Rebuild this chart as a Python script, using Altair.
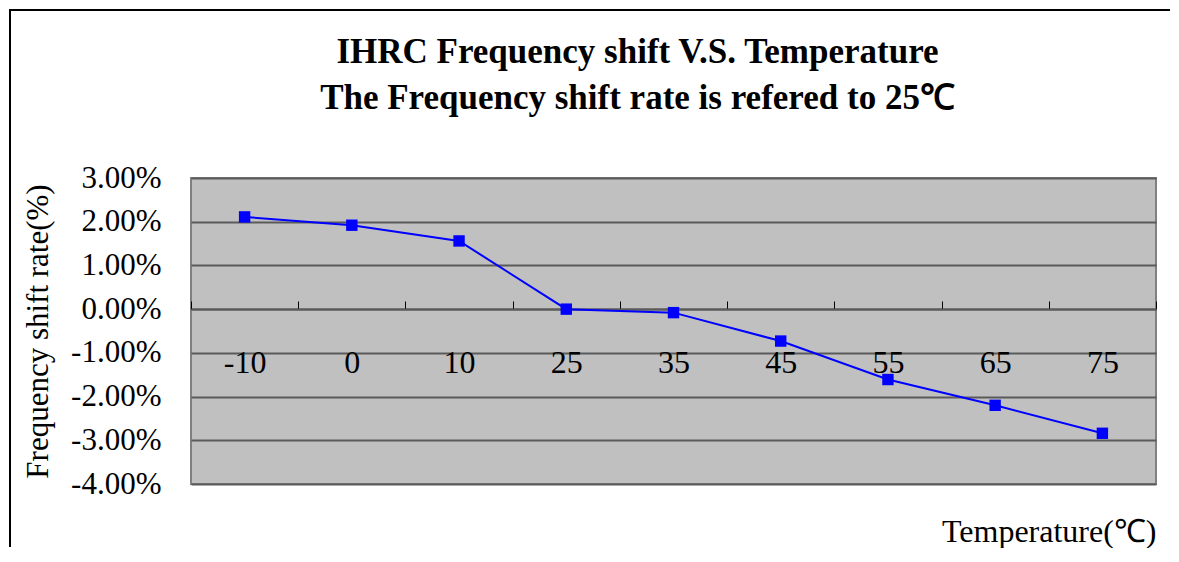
import altair as alt
import pandas as pd

# Data
temps = ["-10", "0", "10", "25", "35", "45", "55", "65", "75"]
shift_pct = [2.11, 1.92, 1.56, 0.00, -0.08, -0.73, -1.61, -2.20, -2.84]
y_ticks = [-4, -3, -2, -1, 0, 1, 2, 3]

title_lines = ["IHRC Frequency shift V.S. Temperature",
               "The Frequency shift rate is refered to 25\u2103"]
y_title = "Frequency shift rate(%)"
x_title = "Temperature(\u2103)"

df = pd.DataFrame({"Temperature": temps, "Shift": shift_pct})

SERIF = "Liberation Serif"

x_scale = alt.Scale(domain=temps, paddingInner=0, paddingOuter=0)
y_scale = alt.Scale(domain=[-4, 3], nice=False, zero=False)

y_enc = alt.Y(
    "Shift:Q",
    scale=y_scale,
    axis=alt.Axis(
        values=y_ticks,
        labelExpr="(datum.value < 0 ? '-' : '') + format(abs(datum.value), '.2f') + '%'",
        title=y_title,
        titleFont=SERIF,
        titleFontSize=31,
        titleFontWeight="normal",
        titleColor="black",
        titlePadding=16,
        labelFont=SERIF,
        labelFontSize=31,
        labelColor="black",
        labelPadding=30,
        ticks=False,
        domain=False,
        grid=True,
        gridColor="#5a5a5a",
        gridWidth=2,
    ),
)

line = alt.Chart(df).mark_line(color="#0000FF", strokeWidth=2).encode(
    x=alt.X(
        "Temperature:N",
        sort=temps,
        scale=x_scale,
        axis=alt.Axis(
            orient="top",
            offset=-131,
            title=None,
            labelAngle=0,
            labelFont=SERIF,
            labelFontSize=32,
            labelColor="black",
            labelBaseline="middle",
            labelPadding=-61,
            tickBand="extent",
            tickSize=8,
            tickColor="black",
            tickWidth=1,
            domainColor="#5a5a5a",
            domainWidth=2,
            grid=False,
        ),
    ),
    y=y_enc,
)

points = alt.Chart(df).mark_point(
    shape="square", filled=True, size=130, color="#0000FF", opacity=1
).encode(
    x=alt.X("Temperature:N", sort=temps, scale=x_scale, axis=None),
    y=alt.Y("Shift:Q", scale=y_scale),
)

xtitle_layer = alt.Chart(df).mark_point(opacity=0).encode(
    x=alt.X(
        "Temperature:N",
        sort=temps,
        scale=x_scale,
        axis=alt.Axis(
            orient="bottom",
            labels=False,
            ticks=False,
            domain=False,
            grid=False,
            title=x_title,
            titleAnchor="end",
            titleFont=SERIF,
            titleFontSize=32,
            titleFontWeight="normal",
            titleColor="black",
            titlePadding=32,
        ),
    ),
    y=alt.Y("Shift:Q", scale=y_scale),
)

frame_df = pd.DataFrame({"k": [0]})
frame_left = alt.Chart(frame_df).mark_rule(color="black", strokeWidth=2, strokeCap="square").encode(
    x=alt.value(-181), y=alt.value(-168), y2=alt.value(368)
)
frame_top = alt.Chart(frame_df).mark_rule(color="black", strokeWidth=2, strokeCap="square").encode(
    y=alt.value(-168), x=alt.value(-181), x2=alt.value(978)
)

chart = (
    alt.layer(xtitle_layer, line, points, frame_left, frame_top)
    .resolve_axis(x="independent")
    .properties(
        width=965,
        height=306,
        padding=0,
        background="white",
        title=alt.TitleParams(
            text=title_lines,
            font=SERIF,
            fontSize=35,
            fontWeight="bold",
            color="black",
            lineHeight=46,
            anchor="middle",
            dx=-36,
            offset=-107,
        ),
    )
    .configure_view(fill="#C0C0C0", stroke="#808080", strokeWidth=2)
)

chart.save("out.html", embed_options={"renderer": "svg", "actions": False})
